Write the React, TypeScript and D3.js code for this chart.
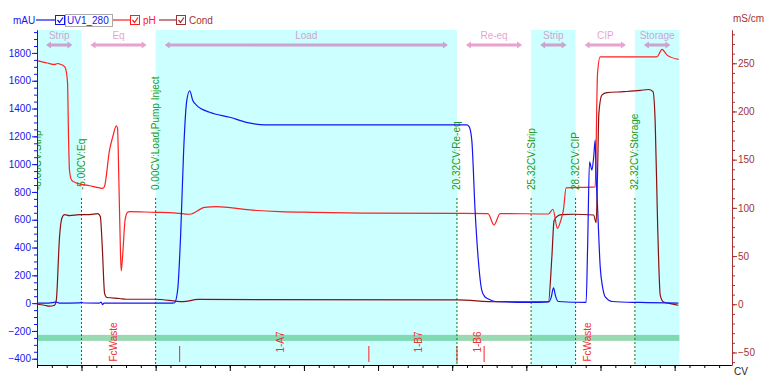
import React, { useEffect, useRef } from 'react';
import * as d3 from 'd3';

const W = 766;
const H = 376;

// run phases (CV)
const phaseNames = ['Strip', 'Eq', 'Load', 'Re-eq', 'Strip', 'CIP', 'Storage'];
const phaseStart = [-8, -5, 0, 20.32, 25.32, 28.32, 32.32];
const phaseEnd = [-5, 0, 20.32, 25.32, 28.32, 32.32, 35.32];
const phaseShaded = [true, false, true, false, true, false, true];

// run log events
const eventCv = [-8, -5, 0, 20.32, 25.32, 28.32, 32.32];
const eventLabels = ['-8.00CV:Strip', '-5.00CV:Eq', '0.00CV:Load,Pump Inject', '20.32CV:Re-eq', '25.32CV:Strip', '28.32CV:CIP', '32.32CV:Storage'];

// fractions
const fracMarkCv = [1.62, 14.38, 20.32, 22.15];
const fracLabelCv = [-2.84, 8.4, 17.7, 21.7, 29.1];
const fracLabels = ['FcWaste', '1-A7', '1-B7', '1-B6', 'FcWaste'];

// UV1_280 (mAU)
const uvCv = [-8, -7.2, -6.85, -6.7, -6.5, -5.15, -5.0, -4.8, -3.8, -3.68, -3.58, -3.48, 1.15, 1.28, 1.49, 1.69, 1.89, 2.09, 2.3, 2.5, 2.75, 3.65, 5.0, 6.12, 7.36, 20.98, 21.14, 21.32, 21.54, 21.76, 21.99, 22.21, 22.44, 22.89, 23.9, 25.25, 26.49, 26.67, 26.83, 26.97, 27.14, 29.03, 29.13, 29.26, 29.42, 29.54, 29.64, 29.71, 29.8, 29.98, 30.15, 30.32, 30.8, 32.68, 35.25];
const uvMau = [0, 0, 6, 8, 0, 2, 5, 1, 0, 8, -10, 0, 0, 3, 100, 500, 1100, 1450, 1528, 1460, 1425, 1373, 1337, 1301, 1282, 1282, 1270, 1173, 670, 310, 94, 45, 30, 12, 8, 5, 9, 40, 110, 50, 12, 5, 400, 1017, 957, 1050, 1173, 900, 693, 261, 110, 45, 12, 5, 0];

// pH
const phCv = [-8, -7.3, -6.82, -6.6, -6.48, -6.14, -6.01, -5.94, -5.87, -5.81, -5.67, -5.4, -5.05, -4.46, -3.78, -3.56, -3.44, -3.11, -2.89, -2.65, -2.57, -2.48, -2.37, -2.32, -2.23, -2.06, -1.89, -1.76, 0, 0.95, 2.3, 3.31, 4.1, 6.35, 8.37, 10.6, 13.98, 20.32, 22.41, 22.82, 23.23, 26.49, 26.79, 27.1, 27.33, 27.5, 27.68, 29.64, 29.8, 29.98, 33.81, 34.15, 34.49, 35.27];
const phVal = [12.72, 12.62, 12.56, 12.6, 12.58, 12.47, 12.2, 11.78, 9.4, 8.15, 7.73, 7.62, 7.56, 7.49, 7.4, 7.38, 7.48, 8.98, 9.54, 9.99, 9.9, 7.73, 4.68, 3.93, 4.53, 6.06, 6.38, 6.41, 6.38, 6.37, 6.3, 6.59, 6.62, 6.48, 6.41, 6.38, 6.35, 6.34, 6.33, 5.85, 6.33, 6.31, 6.51, 5.71, 6.06, 6.48, 7.4, 7.44, 12.19, 12.88, 12.88, 13.19, 12.95, 12.77];

// Cond (mS/cm)
const condCv = [-8, -7.5, -7.16, -6.82, -6.7, -6.48, -6.33, -6.14, -5.81, -5.13, -4.46, -3.9, -3.73, -3.6, -3.44, -3.29, -2.43, -1.98, 0, 1.84, 2.86, 20.32, 23.0, 26.49, 26.72, 26.87, 27.16, 27.39, 28.18, 29.53, 29.71, 29.8, 29.89, 30.09, 30.43, 31.55, 32.68, 33.24, 33.54, 33.69, 33.85, 34.03, 34.25, 34.71, 35.04, 35.25];
const condVal = [0, -1, -2, -1, 4, 70, 89, 93, 92, 93, 93, 94, 91, 60, 11, 7, 6, 5.2, 5.2, 2.7, 5, 4.5, 2.6, 2.6, 49, 87, 92, 93, 93.4, 92.6, 84.6, 135.6, 198, 217, 219.5, 220.5, 221.8, 222.8, 220.5, 187.7, 83.7, 9.3, 2.4, 0.7, -0.3, -1];

const FONT = 'Arial, "Liberation Sans", sans-serif';
const BLUE = '#1515f0';
const RED = '#ff2020';
const DRED = '#a33333';
const GREEN = '#229922';

export default function App() {
  const svgRef = useRef<SVGSVGElement>(null);

  useEffect(() => {
    if (!svgRef.current) return;
    const svg = d3.select(svgRef.current);
    svg.selectAll('*').remove();

    const left = 37, right = 731, top = 30, bottom = 365;
    const x = d3.scaleLinear().domain([-8, 38.8]).range([left, right]);
    const yL = d3.scaleLinear().domain([-445, 1965]).range([bottom, top]);
    const yR = d3.scaleLinear().domain([-63, 284.5]).range([bottom, top]);
    const yPh = d3.scaleLinear().domain([0, 14]).range([bottom, top]);

    svg.append('rect').attr('width', W).attr('height', H).attr('fill', '#fff');
    svg.append('defs').append('clipPath').attr('id', 'plot-clip')
      .append('rect').attr('x', left).attr('y', top).attr('width', right - left).attr('height', bottom - top);

    const plot = svg.append('g').attr('clip-path', 'url(#plot-clip)');

    // phase shading
    phaseNames.forEach((name, i) => {
      if (phaseShaded[i]) {
        plot.append('rect')
          .attr('x', x(phaseStart[i]))
          .attr('y', top)
          .attr('width', x(phaseEnd[i]) - x(phaseStart[i]))
          .attr('height', bottom - top)
          .attr('fill', '#ccffff');
      }
    });

    // phase labels + double arrows
    phaseNames.forEach((name, i) => {
      const x1 = x(phaseStart[i]) + 9;
      const x2 = x(phaseEnd[i]) - 9;
      const ya = 45;
      const g = plot.append('g').attr('fill', '#cc3399').attr('opacity', 0.45);
      g.append('text')
        .attr('x', (x(phaseStart[i]) + x(phaseEnd[i])) / 2)
        .attr('y', 39)
        .attr('text-anchor', 'middle')
        .attr('font-family', FONT)
        .attr('font-size', 10)
        .text(name);
      g.append('path').attr('d',
        `M${x1},${ya} L${x1 + 5},${ya - 3.5} L${x1 + 5},${ya - 1.5} L${x2 - 5},${ya - 1.5} L${x2 - 5},${ya - 3.5} L${x2},${ya} ` +
        `L${x2 - 5},${ya + 3.5} L${x2 - 5},${ya + 1.5} L${x1 + 5},${ya + 1.5} L${x1 + 5},${ya + 3.5} Z`);
    });

    // fraction band
    plot.append('rect')
      .attr('x', x(-8))
      .attr('y', yL(-250) - 3)
      .attr('width', x(35.32) - x(-8))
      .attr('height', 6)
      .attr('fill', '#22aa55')
      .attr('opacity', 0.45);

    // fraction marks and labels
    fracMarkCv.forEach(c => {
      plot.append('line')
        .attr('x1', x(c)).attr('x2', x(c))
        .attr('y1', 346).attr('y2', 362)
        .attr('stroke', RED).attr('stroke-width', 1);
    });
    fracLabels.forEach((lab, i) => {
      plot.append('text')
        .attr('transform', `translate(${x(fracLabelCv[i])},342) rotate(-90)`)
        .attr('text-anchor', 'middle')
        .attr('dy', '0.35em')
        .attr('font-family', FONT)
        .attr('font-size', 10)
        .attr('fill', '#f03030')
        .text(lab);
    });

    // events
    eventCv.forEach((c, i) => {
      plot.append('line')
        .attr('x1', x(c)).attr('x2', x(c))
        .attr('y1', 198).attr('y2', bottom)
        .attr('stroke', '#117711')
        .attr('stroke-dasharray', '2,2');
      plot.append('text')
        .attr('transform', `translate(${x(c)},190) rotate(-90)`)
        .attr('dy', '0.35em')
        .attr('font-family', FONT)
        .attr('font-size', 10)
        .attr('fill', GREEN)
        .text(eventLabels[i]);
    });

    // curves
    const condLine = d3.line<number>().x((_, i) => x(condCv[i])).y(d => yR(d)).curve(d3.curveMonotoneX);
    const phLine = d3.line<number>().x((_, i) => x(phCv[i])).y(d => yPh(d)).curve(d3.curveMonotoneX);
    const uvLine = d3.line<number>().x((_, i) => x(uvCv[i])).y(d => yL(d)).curve(d3.curveMonotoneX);

    plot.append('path').attr('d', condLine(condVal)).attr('fill', 'none').attr('stroke', '#8b1010').attr('stroke-width', 1.2);
    plot.append('path').attr('d', phLine(phVal)).attr('fill', 'none').attr('stroke', RED).attr('stroke-width', 1.2);
    plot.append('path').attr('d', uvLine(uvMau)).attr('fill', 'none').attr('stroke', BLUE).attr('stroke-width', 1.2);

    const style = (g: d3.Selection<SVGGElement, unknown, null, undefined>, color: string) => {
      g.attr('font-family', FONT).attr('font-size', 10);
      g.selectAll('line').attr('stroke', color);
      g.selectAll('path').attr('stroke', color);
      g.selectAll('text').attr('fill', color);
    };
    const fmt = d3.format('d');

    // left axis
    const gl = svg.append('g').attr('transform', `translate(${left},0)`);
    gl.append('g').call(d3.axisLeft(yL).tickValues(d3.range(-400, 1951, 50)).tickSize(3).tickSizeOuter(0).tickFormat(() => ''))
      .call(g => style(g, BLUE));
    gl.append('g').call(d3.axisLeft(yL).tickValues(d3.range(-400, 1801, 200)).tickSize(5).tickPadding(1).tickSizeOuter(0).tickFormat(d => fmt(d as number)))
      .call(g => style(g, BLUE));

    // right axis
    const gr = svg.append('g').attr('transform', `translate(${right + 1},0)`);
    gr.append('g').call(d3.axisRight(yR).tickValues(d3.range(-60, 281, 10)).tickSize(3).tickSizeOuter(0).tickFormat(() => ''))
      .call(g => style(g, DRED));
    gr.append('g').call(d3.axisRight(yR).tickValues(d3.range(-50, 251, 50)).tickSize(5).tickPadding(1).tickSizeOuter(0).tickFormat(d => fmt(d as number)))
      .call(g => style(g, DRED));

    // bottom axis
    const gb = svg.append('g').attr('transform', `translate(0,${bottom})`);
    gb.append('g').call(d3.axisBottom(x).tickValues(d3.range(-8, 39, 1)).tickSize(3).tickSizeOuter(0).tickFormat(() => ''))
      .call(g => style(g, '#000'));
    gb.append('g').call(d3.axisBottom(x).tickValues(d3.range(-5, 36, 5)).tickSize(6).tickSizeOuter(0).tickFormat(() => ''))
      .call(g => style(g, '#000'));
    svg.append('text').attr('x', 734).attr('y', 375).attr('font-family', FONT).attr('font-size', 10).attr('fill', '#222').text('CV');

    // unit labels
    svg.append('text').attr('x', 13).attr('y', 24).attr('font-family', FONT).attr('font-size', 10).attr('fill', BLUE).text('mAU');
    svg.append('text').attr('x', 733).attr('y', 22).attr('font-family', FONT).attr('font-size', 10).attr('fill', DRED).text('mS/cm');

    // legend
    const legend = [
      { name: 'UV1_280', color: BLUE, x0: 36, x1: 55, tx: 67 },
      { name: 'pH', color: RED, x0: 113, x1: 130, tx: 143 },
      { name: 'Cond', color: DRED, x0: 159, x1: 176, tx: 189 },
    ];
    legend.forEach((l, i) => {
      svg.append('line').attr('x1', l.x0).attr('x2', l.x1).attr('y1', 20).attr('y2', 20).attr('stroke', l.color).attr('stroke-width', 1.2);
      svg.append('rect').attr('x', l.x1 + 0.5).attr('y', 15.5).attr('width', 9).attr('height', 9).attr('fill', '#fff').attr('stroke', l.color);
      svg.append('path').attr('d', `M${l.x1 + 2.5},${20} L${l.x1 + 4.5},${22.5} L${l.x1 + 8},${17.5}`)
        .attr('fill', 'none').attr('stroke', l.color).attr('stroke-width', 1.3);
      svg.append('text').attr('x', l.tx).attr('y', 24).attr('font-family', FONT).attr('font-size', 10)
        .attr('fill', l.color).text(l.name);
      if (i === 0) {
        svg.append('rect').attr('x', 65.5).attr('y', 14.5).attr('width', 47).attr('height', 12)
          .attr('fill', 'none').attr('stroke', '#555').attr('stroke-dasharray', '1,1');
      }
    });
  }, []);

  return (
    <svg ref={svgRef} width={W} height={H} style={{ position: 'absolute', left: 0, top: 0 }} />
  );
}
